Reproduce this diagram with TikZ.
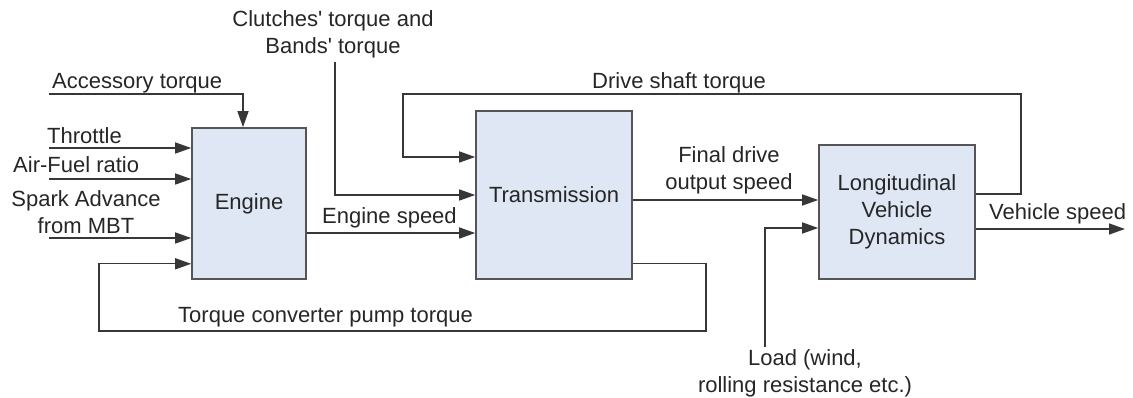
\documentclass[tikz,border=0pt]{standalone}
\usepackage{fontspec}
\setmainfont{Liberation Sans}
\usetikzlibrary{arrows.meta,positioning}
\definecolor{BoxFill}{RGB}{222,231,243}
\definecolor{LineGray}{RGB}{55,55,55}

\begin{document}
\begin{tikzpicture}[x=1pt, y=-1pt,
	font=\fontsize{22}{27}\selectfont,
	blk/.style={draw=LineGray!85, line width=1.6pt, fill=BoxFill, inner sep=0pt, align=center, text=black!85},
	sig/.style={draw=LineGray, line width=1.4pt, -{Triangle[length=16pt,width=11pt]}},
	lbl/.style={inner sep=0pt, anchor=base west, text=black!85},
	lblc/.style={inner sep=0pt, anchor=base, align=center, text=black!85}]
	\useasboundingbox (0,0) rectangle (1133,398);
	% blocks
	\node[blk, minimum width=114pt, minimum height=151pt] (engine) at (249,203.5) {Engine};
	\node[blk, minimum width=156pt, minimum height=168pt] (trans) at (554,195) {Transmission};
	\node[blk, minimum width=156pt, minimum height=134pt] (lvd) at (897,212) {Longitudinal\\Vehicle\\Dynamics};
	% free ends
	\coordinate (acc) at (49,94);
	\coordinate (thr) at (49,148);
	\coordinate (afr) at (49,179);
	\coordinate (spk) at (49,238);
	\coordinate (clt) at (335,62);
	\coordinate (tcR) at (706,331);
	\coordinate (tcL) at (99,331);
	\coordinate (dsR) at (1021,94);
	\coordinate (dsL) at (403,94);
	\coordinate (ld) at (765,347);
	\coordinate (vs) at (1125,229);
	% signals
	\draw[sig] (acc) -| ([xshift=-6pt]engine.north);
	\draw[sig] (thr) -- (thr -| engine.west);
	\draw[sig] (afr) -- (afr -| engine.west);
	\draw[sig] (spk) -- (spk -| engine.west);
	\draw[sig] ([yshift=16pt]trans.south east) -| (tcR) -- (tcL) |- ([yshift=16pt]engine.south west);
	\draw[sig] ([yshift=-29.5pt]engine.east) coordinate (es) -- (es -| trans.west);
	\draw[sig] (clt) |- (trans.west);
	\draw[sig] ([yshift=18pt]lvd.east) -| (dsR) -- (dsL) |- ([yshift=38pt]trans.west);
	\draw[sig] ([yshift=-5pt]trans.east) coordinate (fd) -- (fd -| lvd.west);
	\draw[sig] (ld) |- ([yshift=-16pt]lvd.west);
	\draw[sig] ([yshift=-17pt]lvd.east) -- (vs);
	% labels (multi-line ones sit on their last baseline)
	\node[lblc] (lClt) at (333,54) {Clutches\textquotesingle{} torque and\\Bands\textquotesingle{} torque};
	\node[lbl] (lAcc) at (52,89) {Accessory torque};
	\node[lbl] (lThr) at (47,144) {Throttle};
	\node[lbl] (lAfr) at (13,173) {Air-Fuel ratio};
	\node[lblc] (lSpk) at (86,234) {Spark Advance\\from MBT};
	\node[lbl] (lEs) at (322,224) {Engine speed};
	\node[lbl] (lTc) at (178,322) {Torque converter pump torque};
	\node[lbl] (lDs) at (592,89) {Drive shaft torque};
	\node[lblc] (lFd) at (729,190) {Final drive\\output speed};
	\node[lbl] (lVs) at (989,220) {Vehicle speed};
	\node[lblc] (lLd) at (805,392) {Load (wind,\\rolling resistance etc.)};
\end{tikzpicture}
\end{document}
